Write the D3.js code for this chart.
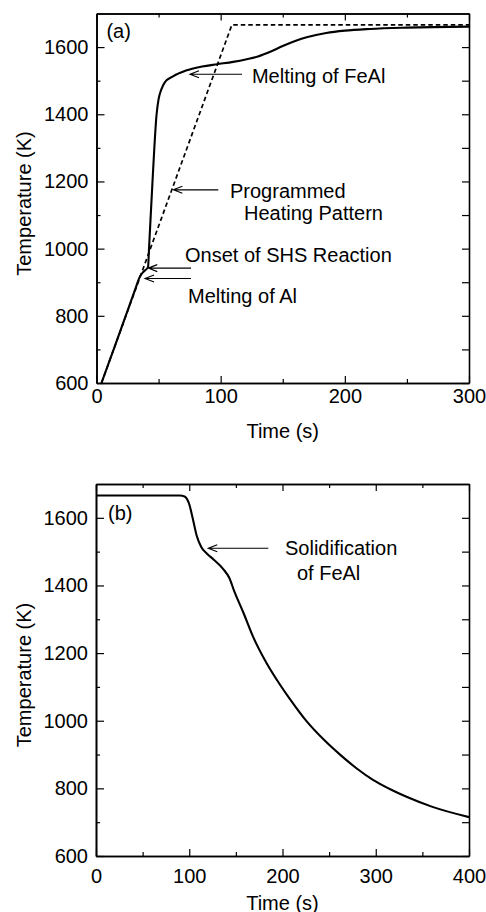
<!DOCTYPE html>
<html>
<head>
<meta charset="utf-8">
<script src="https://cdn.jsdelivr.net/npm/d3@7"></script>
<style>
  body { margin: 0; background: #fff; }
  svg { display: block; }
  text { font-family: "Liberation Sans", Arial, Helvetica, sans-serif; fill: #000; }
</style>
</head>
<body>
<svg id="chart" width="486" height="912"></svg>
<script>
// (a) heating: measured sample temperature
const heatTime = [4, 15, 25, 31, 35, 38, 41.5, 42.3, 45.1, 48.4, 50, 52, 55, 61.6, 72, 85, 97, 110, 121, 130, 140, 150, 160, 170, 185, 200, 220, 250, 300];
const heatTemp = [600, 712, 815, 877, 917, 932, 945, 1000, 1200, 1400, 1445, 1472, 1495, 1513, 1530, 1542, 1549, 1556, 1564, 1572, 1586, 1603, 1618, 1630, 1642, 1649, 1654, 1658, 1661];

// (a) programmed heating pattern (dashed)
const progTime = [4, 109, 300];
const progTemp = [600, 1666, 1666];

// (b) cooling
const coolTime = [0, 90, 95, 100, 104, 108, 113, 119, 126, 136, 143, 148, 158, 169, 183, 197, 208, 226, 245, 262, 280, 297, 315, 333, 360, 400];
const coolTemp = [1666, 1666, 1663, 1640, 1595, 1547, 1513, 1494, 1477, 1450, 1422, 1385, 1320, 1245, 1170, 1108, 1064, 998, 942, 899, 858, 825, 798, 775, 746, 715];

const tempTicks = [600, 800, 1000, 1200, 1400, 1600];
const tempMinor = [700, 900, 1100, 1300, 1500];
const timeTicksA = [0, 100, 200, 300];
const timeMinorA = [50, 150, 250];
const timeTicksB = [0, 100, 200, 300, 400];
const timeMinorB = [50, 150, 250, 350];

// annotations in data units: [text lines], arrow tip, arrow tail
const notesA = [
  {lines: ["Melting of FeAl"], tx: 125.2, ty: [1493], tip: [75.3, 1519], tail: 117.2},
  {lines: ["Programmed", "Heating Pattern"], tx: 107.5, ty: [1152, 1085], dx2: 11.3, tip: [61.9, 1175], tail: 98.1},
  {lines: ["Onset of SHS Reaction"], tx: 71.3, ty: [960], tip: [41.7, 942], tail: 76.1},
  {lines: ["Melting of Al"], tx: 73.7, ty: [838], tip: [39.1, 911], tail: 76.1}
];
const notesB = [
  {lines: ["Solidification", "of FeAl"], tx: 202.7, ty: [1490, 1416], dx2: 12.8, tip: [120.4, 1510], tail: 184.8}
];

const svg = d3.select("#chart");
const FONT = 20;

function drawPanel(cfg) {
  const x = d3.scaleLinear().domain(cfg.xDomain).range([cfg.left, cfg.right]);
  const y = d3.scaleLinear().domain([600, 1700]).range([cfg.bottom, cfg.top]);
  const g = svg.append("g");
  const fmt = d3.format("d");

  //Axes: major ticks with labels, minor without, all pointing inward
  const axes = [
    [d3.axisBottom(x).tickValues(cfg.xTicks).tickFormat(fmt).tickSizeInner(-7).tickSizeOuter(0).tickPadding(cfg.xPad), `translate(0,${cfg.bottom})`, true],
    [d3.axisBottom(x).tickValues(cfg.xMinor).tickSizeInner(-4).tickSizeOuter(0).tickFormat(""), `translate(0,${cfg.bottom})`, false],
    [d3.axisTop(x).tickValues(cfg.xTicks).tickSizeInner(-7).tickSizeOuter(0).tickFormat(""), `translate(0,${cfg.top})`, false],
    [d3.axisTop(x).tickValues(cfg.xMinor).tickSizeInner(-4).tickSizeOuter(0).tickFormat(""), `translate(0,${cfg.top})`, false],
    [d3.axisLeft(y).tickValues(tempTicks).tickFormat(fmt).tickSizeInner(-8).tickSizeOuter(0).tickPadding(8), `translate(${cfg.left},0)`, true],
    [d3.axisLeft(y).tickValues(tempMinor).tickSizeInner(-4).tickSizeOuter(0).tickFormat(""), `translate(${cfg.left},0)`, false],
    [d3.axisRight(y).tickValues(tempTicks.concat(tempMinor)).tickSizeInner(-7).tickSizeOuter(0).tickFormat(""), `translate(${cfg.right},0)`, false]
  ];
  axes.forEach(([ax, tr, labels]) => {
    const a = g.append("g").attr("transform", tr).call(ax);
    a.attr("font-family", null).attr("font-size", null);
    a.select(".domain").attr("stroke", "#000").attr("stroke-width", 1.6);
    a.selectAll(".tick line").attr("stroke", "#000").attr("stroke-width", 1.2);
    if (labels) a.selectAll(".tick text").style("font-size", FONT + "px").attr("fill", "#000");
  });

  //Axis titles
  g.append("text")
    .attr("x", (cfg.left + cfg.right) / 2)
    .attr("y", cfg.xTitleY)
    .attr("text-anchor", "middle")
    .style("font-size", FONT + "px")
    .text("Time (s)");
  g.append("text")
    .attr("transform", `translate(${cfg.yTitleX},${cfg.yTitleY}) rotate(-90)`)
    .attr("text-anchor", "middle")
    .style("font-size", FONT + "px")
    .text("Temperature (K)");

  //Panel label
  g.append("text")
    .attr("x", x(cfg.tag[1]))
    .attr("y", y(cfg.tag[2]))
    .style("font-size", FONT + "px")
    .text(cfg.tag[0]);

  //Curves (measured ones smoothed, programmed pattern straight)
  cfg.series.forEach(s => {
    const line = d3.line()
      .x(d => x(d[0]))
      .y(d => y(d[1]))
      .curve(s.dash ? d3.curveLinear : d3.curveMonotoneX);
    g.append("path")
      .datum(d3.zip(s.t, s.v))
      .attr("fill", "none")
      .attr("stroke", "#000")
      .attr("stroke-width", s.dash ? 1.7 : 2.1)
      .attr("stroke-dasharray", s.dash ? "4.5,3" : null)
      .attr("d", line);
  });

  //Annotations with open arrowheads
  cfg.notes.forEach(n => {
    const tipX = x(n.tip[0]), tipY = y(n.tip[1]);
    g.append("path")
      .attr("fill", "none")
      .attr("stroke", "#000")
      .attr("stroke-width", 1.1)
      .attr("d", `M${x(n.tail)},${tipY}H${tipX}M${tipX + 9},${tipY - 3.5}L${tipX},${tipY}L${tipX + 9},${tipY + 3.5}`);
    n.lines.forEach((l, i) => {
      g.append("text")
        .attr("x", x(n.tx + (i > 0 ? n.dx2 : 0)))
        .attr("y", y(n.ty[i]))
        .style("font-size", FONT + "px")
        .text(l);
    });
  });
}

drawPanel({
  xDomain: [0, 300], left: 96.5, right: 469, top: 13.5, bottom: 383,
  xTicks: timeTicksA, xMinor: timeMinorA, xPad: 6,
  xTitleY: 437.5, yTitleX: 31, yTitleY: 203.5,
  tag: ["(a)", 8, 1627],
  series: [
    {t: progTime, v: progTemp, dash: true},
    {t: heatTime, v: heatTemp, dash: false}
  ],
  notes: notesA
});

drawPanel({
  xDomain: [0, 400], left: 96, right: 469, top: 484, bottom: 856,
  xTicks: timeTicksB, xMinor: timeMinorB, xPad: 13,
  xTitleY: 909.5, yTitleX: 31, yTitleY: 675,
  tag: ["(b)", 12.9, 1594],
  series: [
    {t: coolTime, v: coolTemp, dash: false}
  ],
  notes: notesB
});
</script>
</body>
</html>
